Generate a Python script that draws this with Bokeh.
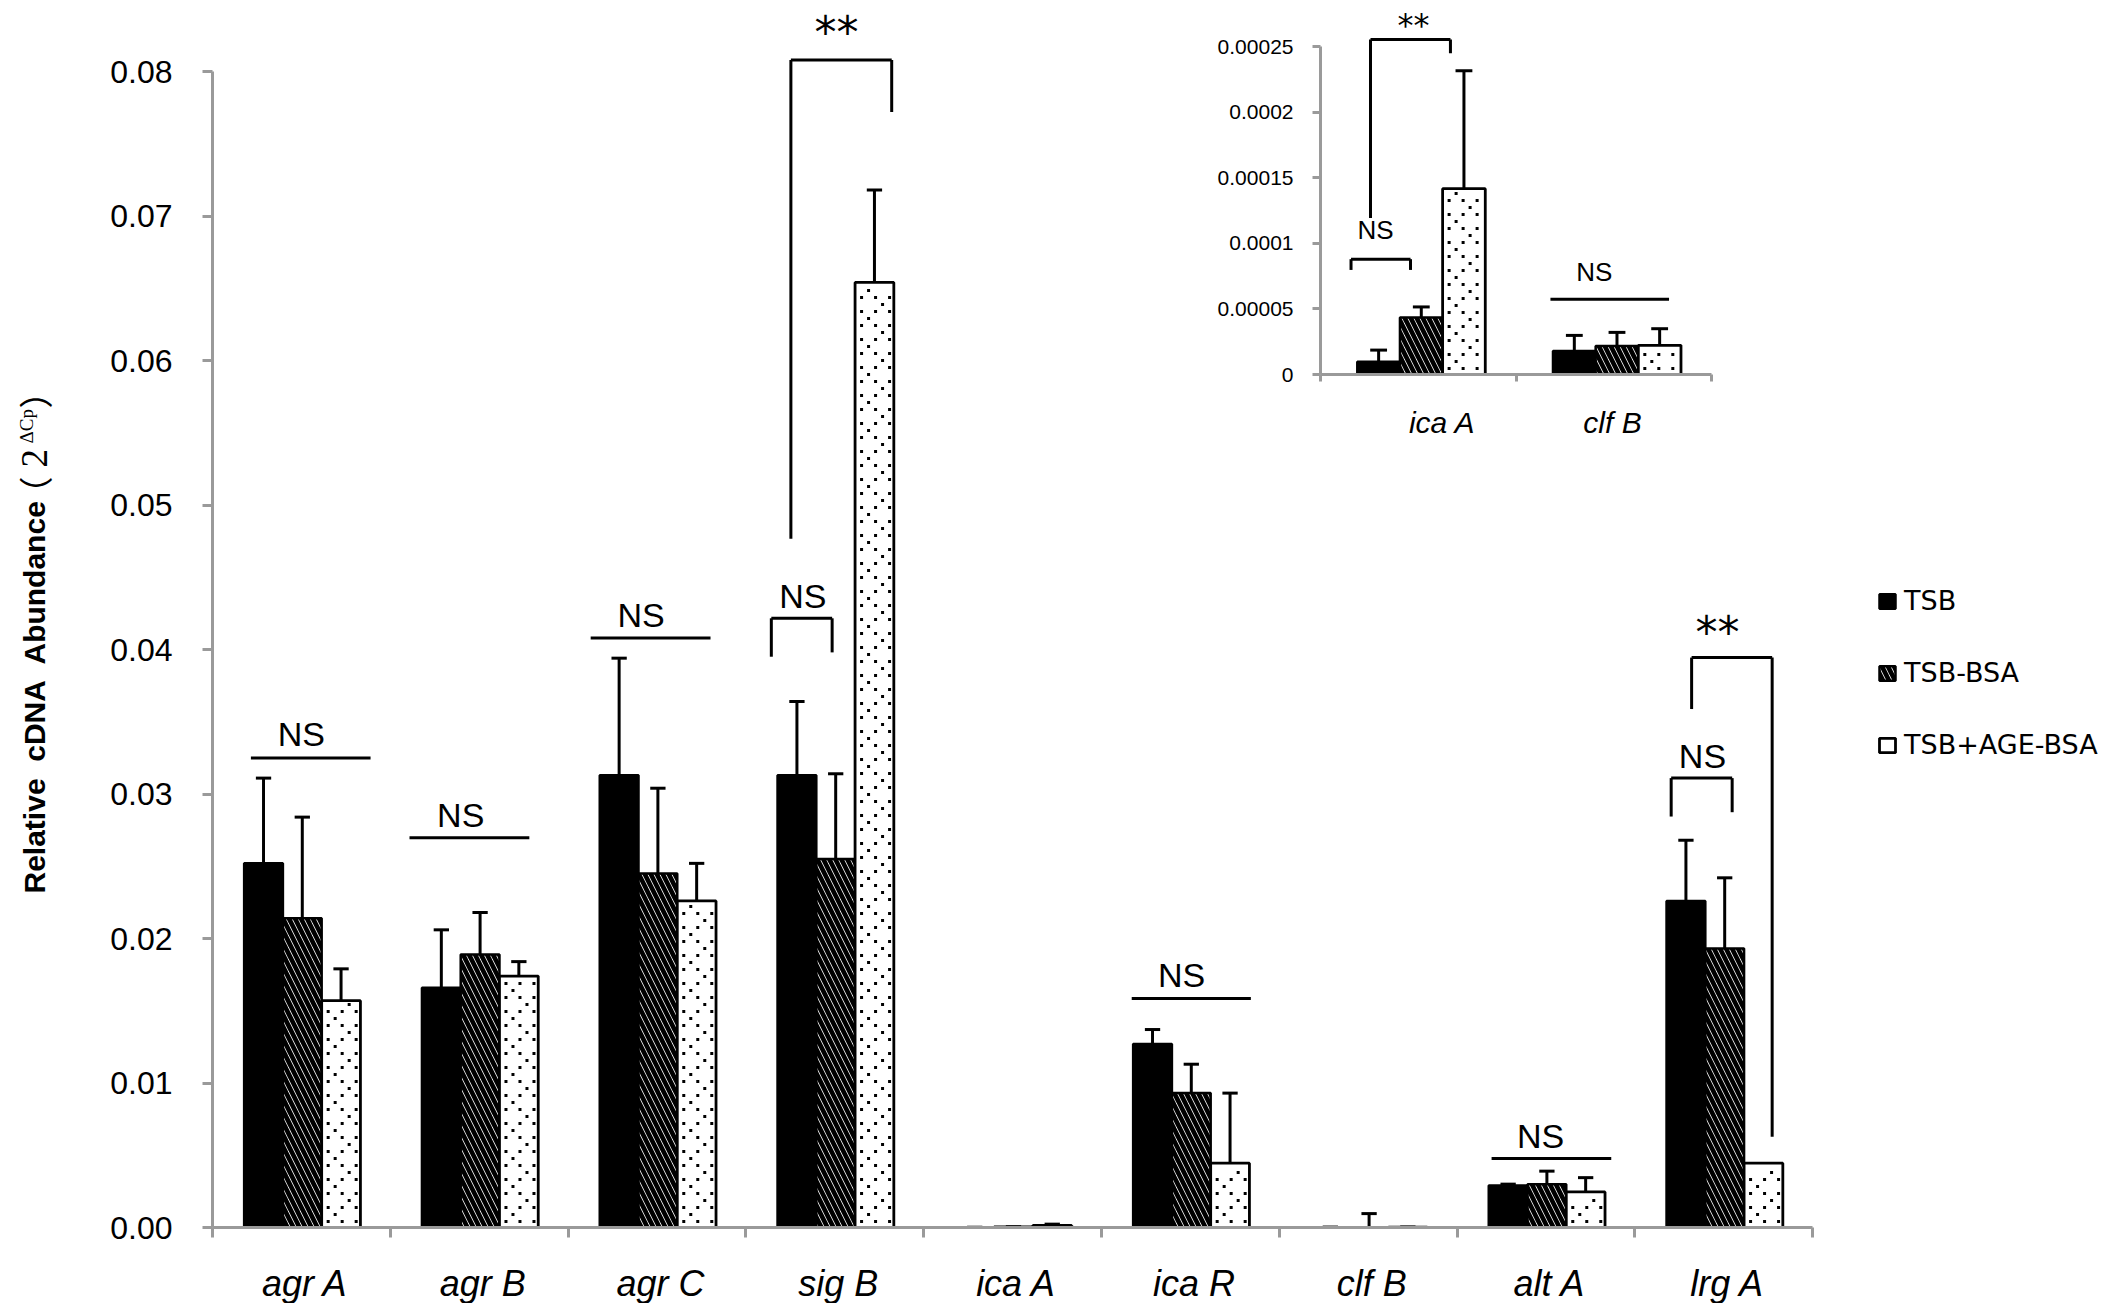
import numpy as np
from bokeh.plotting import figure
from bokeh.models import (Range1d, FixedTicker, Legend, LegendItem, LinearAxis,
                          ColumnDataSource, NumeralTickFormatter)
from bokeh.core.properties import value
from bokeh.embed import file_html
from bokeh.resources import INLINE

# ---------------- data (main panel) ----------------
genes = ["agr A", "agr B", "agr C", "sig B", "ica A", "ica R", "clf B", "alt A", "lrg A"]
series = ["TSB", "TSB-BSA", "TSB+AGE-BSA"]

tsb_mean = [0.0252, 0.0166, 0.0313, 0.0313, 0.0000097, 0.0127, 0.0000179, 0.0029, 0.0226]
tsb_sd   = [0.0059, 0.0040, 0.0081, 0.0051, 0.0000089, 0.0010, 0.0000119, 0.0001, 0.0042]
bsa_mean = [0.0214, 0.0189, 0.0245, 0.0255, 0.0000434, 0.0093, 0.0000217, 0.0030, 0.0193]
bsa_sd   = [0.0070, 0.0029, 0.0059, 0.0059, 0.0000081, 0.0020, 0.00094, 0.0009, 0.0049]
age_mean = [0.0157, 0.0174, 0.0226, 0.0654, 0.0001416, 0.00445, 0.0000222, 0.00246, 0.00445]
age_sd   = [0.0022, 0.0010, 0.0026, 0.0064, 0.00009, 0.00485, 0.0000127, 0.00099, 0.0]

y_ticks = [0.0, 0.01, 0.02, 0.03, 0.04, 0.05, 0.06, 0.07, 0.08]

# ---------------- data (inset) ----------------
inset_genes = ["ica A", "clf B"]
inset_tsb_mean = [0.0000097, 0.0000179]
inset_tsb_sd   = [0.0000089, 0.0000119]
inset_bsa_mean = [0.0000434, 0.0000217]
inset_bsa_sd   = [0.0000081, 0.0000104]
inset_age_mean = [0.0001416, 0.0000222]
inset_age_sd   = [0.0000900, 0.0000127]
inset_ticks = [0.0, 0.00005, 0.0001, 0.00015, 0.0002, 0.00025]

# ---------------- significance annotations ----------------
ns_line_gene = [0, 1, 2, 5, 7]
ns_line_x0 = [-0.284, -0.392, -0.373, -0.33, -0.306]
ns_line_x1 = [0.389, 0.282, 0.301, 0.34, 0.367]
ns_line_y = [0.0325, 0.02698, 0.0408, 0.01585, 0.00478]
ns_text_dx = [0.0, -0.104, -0.09, -0.05, -0.03]
ns_text_y = [0.03415, 0.02857, 0.04239, 0.01748, 0.00635]

br_gene = [3, 3, 8, 8]
br_x0 = [-0.357, -0.247, -0.296, -0.181]
br_x1 = [-0.015, 0.32, 0.047, 0.272]
br_top = [0.04216, 0.0808, 0.0311, 0.03944]
br_left_bottom = [0.0395, 0.04766, 0.02844, 0.03588]
br_right_bottom = [0.0398, 0.0772, 0.02874, 0.00628]
br_text = ["NS", "**", "NS", "**"]
br_text_dx = [-0.18, 0.01, -0.12, -0.035]
br_text_y = [0.04372, 0.0834, 0.03266, 0.0419]

in_br_gene = [0, 0]
in_br_x0 = [-0.344, -0.2445]
in_br_x1 = [-0.04, 0.164]
in_br_top = [0.0000879, 0.0002553]
in_br_left_bottom = [0.0000797, 0.0001193]
in_br_right_bottom = [0.0000797, 0.0002449]
in_br_text = ["NS", "**"]
in_br_text_dx = [-0.219, -0.025]
in_br_text_y = [0.0001105, 0.0002715]
in_line_gene = [1]
in_line_x0 = [-0.325]
in_line_x1 = [0.281]
in_line_y = [0.0000573]
in_line_text_dx = [-0.101]
in_line_text_y = [0.0000785]

# ---------------- geometry of the canvas ----------------
W, H = 2103, 1303
X0_PX = 212          # canvas px of main x = 0
PX_CAT = 177.8
Y0_PX = 1227         # canvas px (from top) of main y = 0
PX_UNIT = (Y0_PX - 71) / 0.08

p = figure(width=W, height=H, output_backend="svg", toolbar_location=None, title=None,
           x_axis_type=None, y_axis_type=None,
           x_range=Range1d(-X0_PX / PX_CAT, (W - X0_PX) / PX_CAT),
           y_range=Range1d(-(H - Y0_PX) / PX_UNIT, Y0_PX / PX_UNIT),
           min_border=0, min_border_left=0, min_border_right=0, min_border_top=0, min_border_bottom=0)
p.outline_line_color = None
p.grid.visible = False
p.background_fill_color = "white"
p.border_fill_color = "white"

AX = "#9a9a9a"

def style_axis(a, tick_out):
    a.axis_line_color = AX
    a.axis_line_width = 3
    a.major_tick_line_color = AX
    a.major_tick_line_width = 3
    a.major_tick_out = tick_out
    a.major_tick_in = 0
    a.minor_tick_line_color = None
    a.major_label_text_color = "black"

# main y axis
ya = LinearAxis(fixed_location=0, ticker=FixedTicker(ticks=y_ticks),
                formatter=NumeralTickFormatter(format="0.00"), bounds=(0, 0.08))
style_axis(ya, 10)
ya.major_label_standoff = 30
ya.major_label_text_font = "Liberation Sans"
ya.major_label_text_font_size = "32px"
p.add_layout(ya, "left")

# main x axis: category boundaries
n = len(genes)
xa = LinearAxis(fixed_location=0, ticker=FixedTicker(ticks=list(range(n + 1))), bounds=(0, n))
style_axis(xa, 10)
xa.major_label_overrides = {i: "" for i in range(n + 1)}
xa.major_label_text_font_size = "1px"
p.add_layout(xa, "below")

# main x axis: category names
lab_pos = [i + 0.52 for i in range(n)]
xl = LinearAxis(fixed_location=0, ticker=FixedTicker(ticks=lab_pos))
xl.axis_line_color = None
xl.major_tick_line_color = None
xl.minor_tick_line_color = None
xl.major_label_overrides = {lab_pos[i]: genes[i] for i in range(n)}
xl.major_label_standoff = 29
xl.major_label_text_font = "Liberation Sans"
xl.major_label_text_font_style = "italic"
xl.major_label_text_font_size = "36px"
xl.major_label_text_color = "black"
p.add_layout(xl, "below")

idx = np.arange(n)
BW = 0.218
GC = 0.505
offsets = [-BW, 0.0, BW]
means = [tsb_mean, bsa_mean, age_mean]
sds = [tsb_sd, bsa_sd, age_sd]

styles = [
    dict(fill_color="black", line_color="black", line_width=2.5),
    dict(fill_color="white", line_color="black", line_width=2.5,
         hatch_pattern="\\", hatch_color="black", hatch_weight=4.6, hatch_scale=12),
    dict(fill_color="white", line_color="black", line_width=2.8),
]


def dot_pattern(centers, tops, bw, x0_px, px_cat, y0_px, px_unit):
    """Stippling for the dotted bars, laid out in screen pixels inside each bar."""
    xs, ys = [], []
    for c, t in zip(centers, tops):
        left = x0_px + (c - bw / 2) * px_cat
        right = x0_px + (c + bw / 2) * px_cat
        top = y0_px - t * px_unit
        r = 0
        yy = y0_px - 6
        while yy > top + 3:
            if r % 2 == 0:
                start, step = left + 6.5, 14
            elif r % 4 == 1:
                start, step = left + 13.5, 28
            else:
                start, step = left + 27.5, 28
            xx = start
            while xx < right - 3.5:
                xs.append((xx - x0_px) / px_cat)
                ys.append((y0_px - yy) / px_unit)
                xx += step
            r += 1
            yy -= 7
    return xs, ys


renderers = []
for k in range(3):
    src = ColumnDataSource(dict(x=idx + GC + offsets[k], top=means[k]))
    renderers.append(p.vbar(x="x", top="top", bottom=0, width=BW, source=src, **styles[k]))

dx_main, dy_main = dot_pattern(idx + GC + offsets[2], age_mean, BW, X0_PX, PX_CAT, Y0_PX, PX_UNIT)
p.scatter(x=dx_main, y=dy_main, marker="square", size=3, fill_color="black", line_color=None)

CAP = 0.043
for k in range(3):
    xs = idx + GC + offsets[k]
    m = np.array(means[k]); s = np.array(sds[k])
    keep = s > 0
    up = m + s
    p.segment(x0=xs[keep], y0=m[keep], x1=xs[keep], y1=up[keep], line_color="black", line_width=3)
    p.segment(x0=xs[keep] - CAP, y0=up[keep], x1=xs[keep] + CAP, y1=up[keep],
              line_color="black", line_width=3)

# significance marks
lg = np.array(ns_line_gene) + 0.5
p.segment(x0=lg + np.array(ns_line_x0), y0=ns_line_y, x1=lg + np.array(ns_line_x1), y1=ns_line_y,
          line_color="black", line_width=3)
p.text(x=lg + np.array(ns_text_dx), y=ns_text_y, text=["NS"] * len(ns_line_gene),
       text_font=value("Liberation Sans"), text_font_size="34px", text_align="center",
       text_baseline="middle", text_color="black")

bg = np.array(br_gene) + 0.5
bx0 = bg + np.array(br_x0); bx1 = bg + np.array(br_x1)
p.segment(x0=bx0, y0=br_top, x1=bx1, y1=br_top, line_color="black", line_width=3)
p.segment(x0=bx0, y0=br_left_bottom, x1=bx0, y1=br_top, line_color="black", line_width=3)
p.segment(x0=bx1, y0=br_right_bottom, x1=bx1, y1=br_top, line_color="black", line_width=3)
for t, dxx, ty, g in zip(br_text, br_text_dx, br_text_y, bg):
    if t == "NS":
        p.text(x=[g + dxx], y=[ty], text=[t], text_font=value("Liberation Sans"), text_font_size="34px",
               text_align="center", text_baseline="middle", text_color="black")
    else:
        p.text(x=[g + dxx], y=[ty], text=[t], text_font=value("DejaVu Sans"), text_font_size="44px",
               text_align="center", text_baseline="middle", text_color="black", y_offset=10)

# y axis title (rotated, with superscript)
def dx(px):
    return (px - X0_PX) / PX_CAT

def dy(px):
    return (Y0_PX - px) / PX_UNIT

title_parts = ["Relative\u00a0 cDNA\u00a0 Abundance", "（", "2", "ΔCp", "）"]
title_px_x = [33.5, 33.5, 33.5, 26, 33.5]
title_px_y = [893, 510, 467, 443, 408]
title_size = ["30px", "34px", "37px", "19px", "34px"]
title_font = ["Liberation Sans", "Noto Sans CJK SC", "Liberation Serif", "Liberation Serif", "Noto Sans CJK SC"]
title_style = ["bold", "normal", "normal", "normal", "normal"]
for t, tx, ty, fs, ff, st in zip(title_parts, title_px_x, title_px_y, title_size, title_font, title_style):
    p.text(x=[dx(tx)], y=[dy(ty)], text=[t], angle=np.pi / 2, text_font=value(ff),
           text_font_style=st, text_font_size=fs, text_align="left", text_baseline="alphabetic",
           text_color="black")

# ---------------- inset (own ranges on the same canvas) ----------------
IN_X0 = 1320
IN_PX_CAT = 195.7
IN_Y0 = 374
IN_PX_UNIT = 328 / 0.00025
p.extra_x_ranges = {"ix": Range1d(-IN_X0 / IN_PX_CAT, (W - IN_X0) / IN_PX_CAT)}
p.extra_y_ranges = {"iy": Range1d((IN_Y0 - H) / IN_PX_UNIT, IN_Y0 / IN_PX_UNIT)}
RI = dict(x_range_name="ix", y_range_name="iy")

n_in = len(inset_genes)
iya = LinearAxis(fixed_location=0, ticker=FixedTicker(ticks=inset_ticks),
                 formatter=NumeralTickFormatter(format="0.[00000]"), bounds=(0, inset_ticks[-1]), **RI)
style_axis(iya, 8)
iya.major_label_standoff = 19
iya.major_label_text_font = "Liberation Sans"
iya.major_label_text_font_size = "21px"
p.add_layout(iya, "left")

ixa = LinearAxis(fixed_location=0, ticker=FixedTicker(ticks=list(range(n_in + 1))), bounds=(0, n_in), **RI)
style_axis(ixa, 7)
ixa.major_label_overrides = {i: "" for i in range(n_in + 1)}
ixa.major_label_text_font_size = "1px"
p.add_layout(ixa, "below")

in_lab_pos = [0.622, 1.492]
ixl = LinearAxis(fixed_location=0, ticker=FixedTicker(ticks=in_lab_pos), **RI)
ixl.axis_line_color = None
ixl.major_tick_line_color = None
ixl.minor_tick_line_color = None
ixl.major_label_overrides = {in_lab_pos[i]: inset_genes[i] for i in range(n_in)}
ixl.major_label_standoff = 25
ixl.major_label_text_font = "Liberation Sans"
ixl.major_label_text_font_style = "italic"
ixl.major_label_text_font_size = "30px"
ixl.major_label_text_color = "black"
p.add_layout(ixl, "below")

iidx = np.arange(n_in)
IGC = 0.515
imeans = [inset_tsb_mean, inset_bsa_mean, inset_age_mean]
isds = [inset_tsb_sd, inset_bsa_sd, inset_age_sd]
for k in range(3):
    p.vbar(x=iidx + IGC + offsets[k], top=imeans[k], bottom=0, width=BW, **styles[k], **RI)
dx_in, dy_in = dot_pattern(iidx + IGC + offsets[2], inset_age_mean, BW, IN_X0, IN_PX_CAT, IN_Y0, IN_PX_UNIT)
p.scatter(x=dx_in, y=dy_in, marker="square", size=3, fill_color="black", line_color=None, **RI)
for k in range(3):
    xs = iidx + IGC + offsets[k]
    m = np.array(imeans[k]); up = m + np.array(isds[k])
    p.segment(x0=xs, y0=m, x1=xs, y1=up, line_color="black", line_width=3, **RI)
    p.segment(x0=xs - CAP, y0=up, x1=xs + CAP, y1=up, line_color="black", line_width=3, **RI)

ibg = np.array(in_br_gene) + 0.5
ibx0 = ibg + np.array(in_br_x0); ibx1 = ibg + np.array(in_br_x1)
p.segment(x0=ibx0, y0=in_br_top, x1=ibx1, y1=in_br_top, line_color="black", line_width=3, **RI)
p.segment(x0=ibx0, y0=in_br_left_bottom, x1=ibx0, y1=in_br_top, line_color="black", line_width=3, **RI)
p.segment(x0=ibx1, y0=in_br_right_bottom, x1=ibx1, y1=in_br_top, line_color="black", line_width=3, **RI)
for t, dxx, ty, g in zip(in_br_text, in_br_text_dx, in_br_text_y, ibg):
    if t == "NS":
        p.text(x=[g + dxx], y=[ty], text=[t], text_font=value("Liberation Sans"), text_font_size="26px",
               text_align="center", text_baseline="middle", text_color="black", **RI)
    else:
        p.text(x=[g + dxx], y=[ty], text=[t], text_font=value("DejaVu Sans"), text_font_size="32px",
               text_align="center", text_baseline="middle", text_color="black", y_offset=7, **RI)
ilg = np.array(in_line_gene) + 0.5
p.segment(x0=ilg + np.array(in_line_x0), y0=in_line_y, x1=ilg + np.array(in_line_x1), y1=in_line_y,
          line_color="black", line_width=3, **RI)
p.text(x=ilg + np.array(in_line_text_dx), y=in_line_text_y, text=["NS"], text_font=value("Liberation Sans"),
       text_font_size="26px", text_align="center", text_baseline="middle", text_color="black", **RI)

# ---------------- legend ----------------
legend_dot = p.scatter(x=[], y=[], marker="square", size=4, fill_color="black", line_color=None)
legend = Legend(items=[LegendItem(label=series[0], renderers=[renderers[0]]),
                       LegendItem(label=series[1], renderers=[renderers[1]]),
                       LegendItem(label=series[2], renderers=[renderers[2], legend_dot])],
                location=(1877, 543), orientation="vertical",
                border_line_color=None, background_fill_alpha=0,
                glyph_width=20, glyph_height=18, label_height=30, spacing=41,
                padding=0, margin=0, label_standoff=7,
                label_text_font="DejaVu Sans", label_text_font_size="27px",
                label_text_color="black")
p.add_layout(legend)

open("out.html", "w").write(file_html(p, INLINE))
